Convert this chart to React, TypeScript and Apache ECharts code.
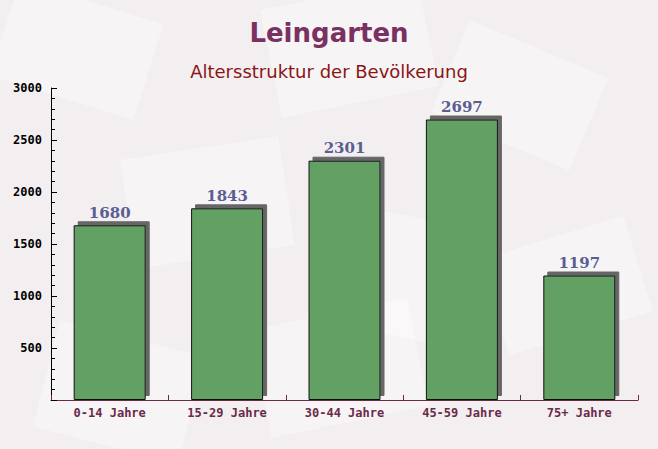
import React, { useEffect, useRef } from "react";
import * as echarts from "echarts";

const categories = ["0-14 Jahre", "15-29 Jahre", "30-44 Jahre", "45-59 Jahre", "75+ Jahre"];
const values = [1680, 1843, 2301, 2697, 1197];
const yTicks = [0, 500, 1000, 1500, 2000, 2500, 3000];

export default function App() {
  const ref = useRef<HTMLDivElement>(null);
  useEffect(() => {
    if (!ref.current) return;
    const chart = echarts.init(ref.current, undefined, { renderer: "svg" });
    const envelopes = [
      { x: 20, y: -20, w: 150, h: 100, r: -0.3 },
      { x: 260, y: 10, w: 160, h: 110, r: 0.2 },
      { x: 470, y: 20, w: 150, h: 100, r: -0.4 },
      { x: 120, y: 160, w: 160, h: 110, r: 0.15 },
      { x: 330, y: 200, w: 170, h: 120, r: -0.2 },
      { x: 480, y: 260, w: 150, h: 100, r: 0.3 },
      { x: 60, y: 320, w: 150, h: 110, r: -0.25 },
      { x: 250, y: 330, w: 160, h: 110, r: 0.2 },
    ];
    chart.setOption({
      animation: false,
      backgroundColor: "#f3eff1",
      graphic: envelopes.map((e) => ({
        type: "rect",
        x: e.x,
        y: e.y,
        rotation: e.r,
        shape: { width: e.w, height: e.h },
        style: { fill: "rgba(255,255,255,0.35)" },
        silent: true,
        z: -10,
      })),
      title: [
        {
          text: "Leingarten",
          left: "center",
          top: 15,
          textStyle: { fontFamily: "DejaVu Sans", fontWeight: "bold", fontSize: 26, color: "#7a3060" },
        },
        {
          text: "Altersstruktur der Bevölkerung",
          left: "center",
          top: 57,
          textStyle: { fontFamily: "DejaVu Sans", fontWeight: "normal", fontSize: 18, color: "#8a1515" },
        },
      ],
      grid: { left: 51, right: 20, top: 88, bottom: 49, containLabel: false },
      xAxis: {
        type: "category",
        data: categories,
        axisLine: { lineStyle: { color: "#6a2a4a", width: 1 } },
        axisTick: { show: true, inside: true, length: 5, alignWithLabel: false, lineStyle: { color: "#6a2a4a" } },
        axisLabel: {
          fontFamily: "DejaVu Sans Mono",
          fontWeight: "bold",
          fontSize: 12,
          color: "#6a2a4a",
          margin: 7,
        },
      },
      yAxis: {
        type: "value",
        min: yTicks[0],
        max: yTicks[yTicks.length - 1],
        interval: 500,
        axisLine: { show: true, lineStyle: { color: "#000" } },
        axisTick: { show: true, inside: true, length: 6, lineStyle: { color: "#000" } },
        minorTick: { show: true, splitNumber: 5, length: 4, lineStyle: { color: "#000" } },
        splitLine: { show: false },
        axisLabel: {
          fontFamily: "DejaVu Sans Mono",
          fontWeight: "bold",
          fontSize: 12,
          color: "#000",
          margin: 9,
          formatter: (v: number) => (v === 0 ? "" : String(v)),
        },
      },
      series: [
        {
          type: "bar",
          data: values,
          barWidth: 72,
          itemStyle: {
            color: "#64a064",
            borderColor: "#111",
            borderWidth: 1,
            shadowColor: "#666",
            shadowOffsetX: 4,
            shadowOffsetY: -4,
            shadowBlur: 0,
          },
          label: {
            show: true,
            position: "top",
            distance: 5,
            fontFamily: "DejaVu Serif",
            fontWeight: "bold",
            fontSize: 15,
            color: "#5a5e90",
          },
        },
      ],
    });
    return () => chart.dispose();
  }, []);
  return <div ref={ref} style={{ width: 658, height: 449, position: "absolute", left: 0, top: 0 }} />;
}
